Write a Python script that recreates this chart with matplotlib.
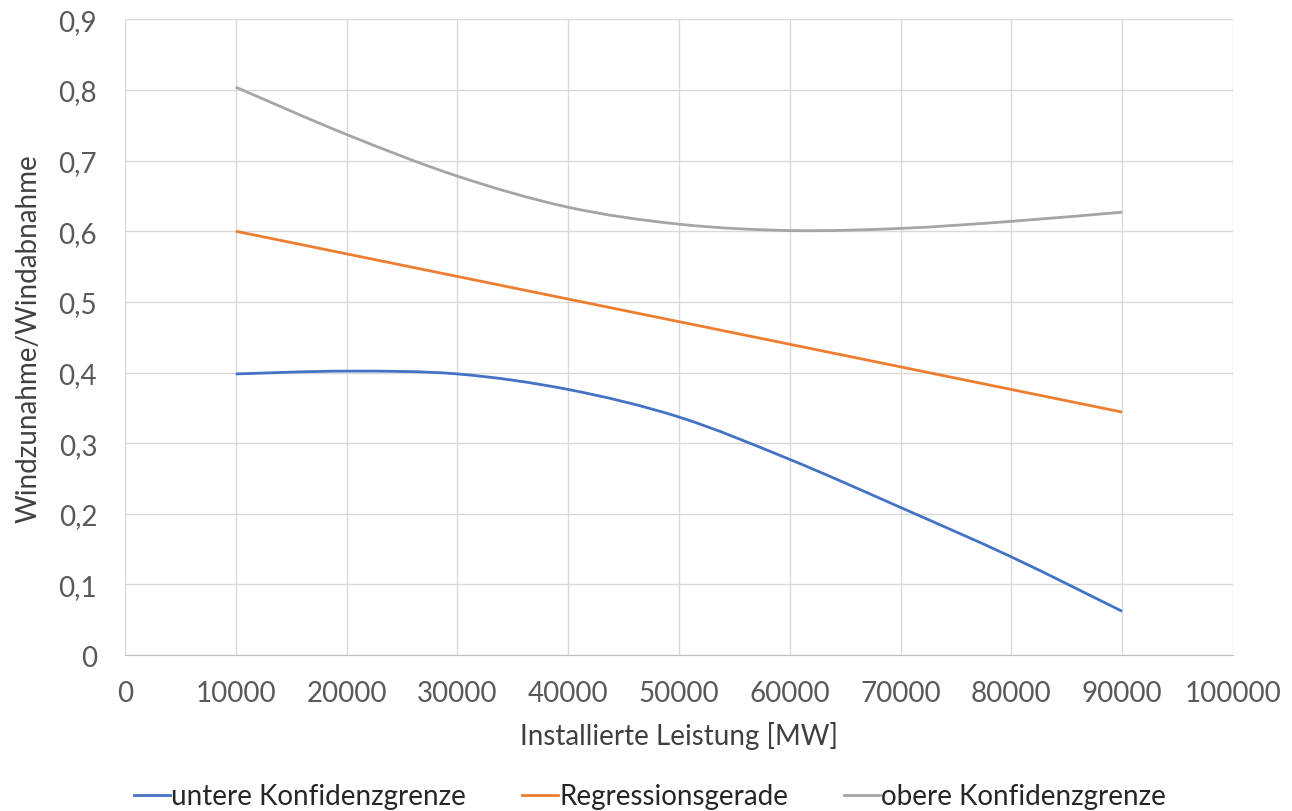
import numpy as np
import matplotlib.pyplot as plt
from matplotlib.path import Path
from matplotlib.patches import PathPatch
from matplotlib.lines import Line2D

plt.rcParams['font.family'] = ['Lato', 'DejaVu Sans']

# data
leistung = [10000, 20000, 30000, 40000, 50000, 60000, 70000, 80000, 90000]
untere = [0.398, 0.402, 0.398, 0.376, 0.337, 0.277, 0.209, 0.139, 0.062]
regression = [0.600, 0.568, 0.536, 0.504, 0.472, 0.440, 0.408, 0.376, 0.344]
obere = [0.804, 0.737, 0.678, 0.634, 0.610, 0.601, 0.604, 0.614, 0.627]

names = ['untere Konfidenzgrenze', 'Regressionsgerade', 'obere Konfidenzgrenze']
colors = ['#4472C4', '#ED7D31', '#A5A5A5']


def smooth_path(x, y):
    # excel-like smoothed line: cubic bezier segments through the points
    pts = np.column_stack([x, y]).astype(float)
    n = len(pts)
    verts = [pts[0]]
    codes = [Path.MOVETO]
    for i in range(n - 1):
        p0 = pts[max(i - 1, 0)]
        p1 = pts[i]
        p2 = pts[i + 1]
        p3 = pts[min(i + 2, n - 1)]
        c1 = p1 + (p2 - p0) / 6
        c2 = p2 - (p3 - p1) / 6
        verts += [c1, c2, p2]
        codes += [Path.CURVE4] * 3
    return Path(verts, codes)


fig = plt.figure(figsize=(12.92, 8.12), dpi=100)
ax = fig.add_axes([0.0967, 0.192, 0.8576, 0.783])

for vals, c in zip([untere, regression, obere], colors):
    ax.add_patch(PathPatch(smooth_path(leistung, vals), facecolor='none',
                           edgecolor=c, lw=2.0, capstyle='butt'))

ax.set_xlim(0, 100000)
ax.set_ylim(0, 0.9)
ax.set_xticks(np.arange(0, 100001, 10000))
ax.set_yticks(np.arange(0, 0.91, 0.1))
ax.set_yticklabels(['0'] + ['0,%d' % i for i in range(1, 10)])
ax.grid(True, color='#D9D9D9', lw=1.0)
ax.set_axisbelow(True)
for s in ['top', 'right', 'left']:
    ax.spines[s].set_visible(False)
ax.spines['bottom'].set_color('#BFBFBF')
ax.tick_params(length=0, labelsize=20, colors='#595959')
ax.tick_params(axis='x', pad=18)
ax.tick_params(axis='y', pad=20)

ax.set_xlabel('Installierte Leistung [MW]', fontsize=20, color='#404040', labelpad=11)
ax.set_ylabel('Windzunahme/Windabnahme', fontsize=20, color='#404040', labelpad=12)

handles = [Line2D([], [], color=c, lw=2) for c in colors]
fig.legend(handles, names, loc='center', bbox_to_anchor=(0.503, 0.018), ncol=3,
           frameon=False, fontsize=20, handlelength=1.3, handletextpad=0.05,
           columnspacing=2.0, labelcolor='#262626')

fig.savefig('out.png', dpi=100)
